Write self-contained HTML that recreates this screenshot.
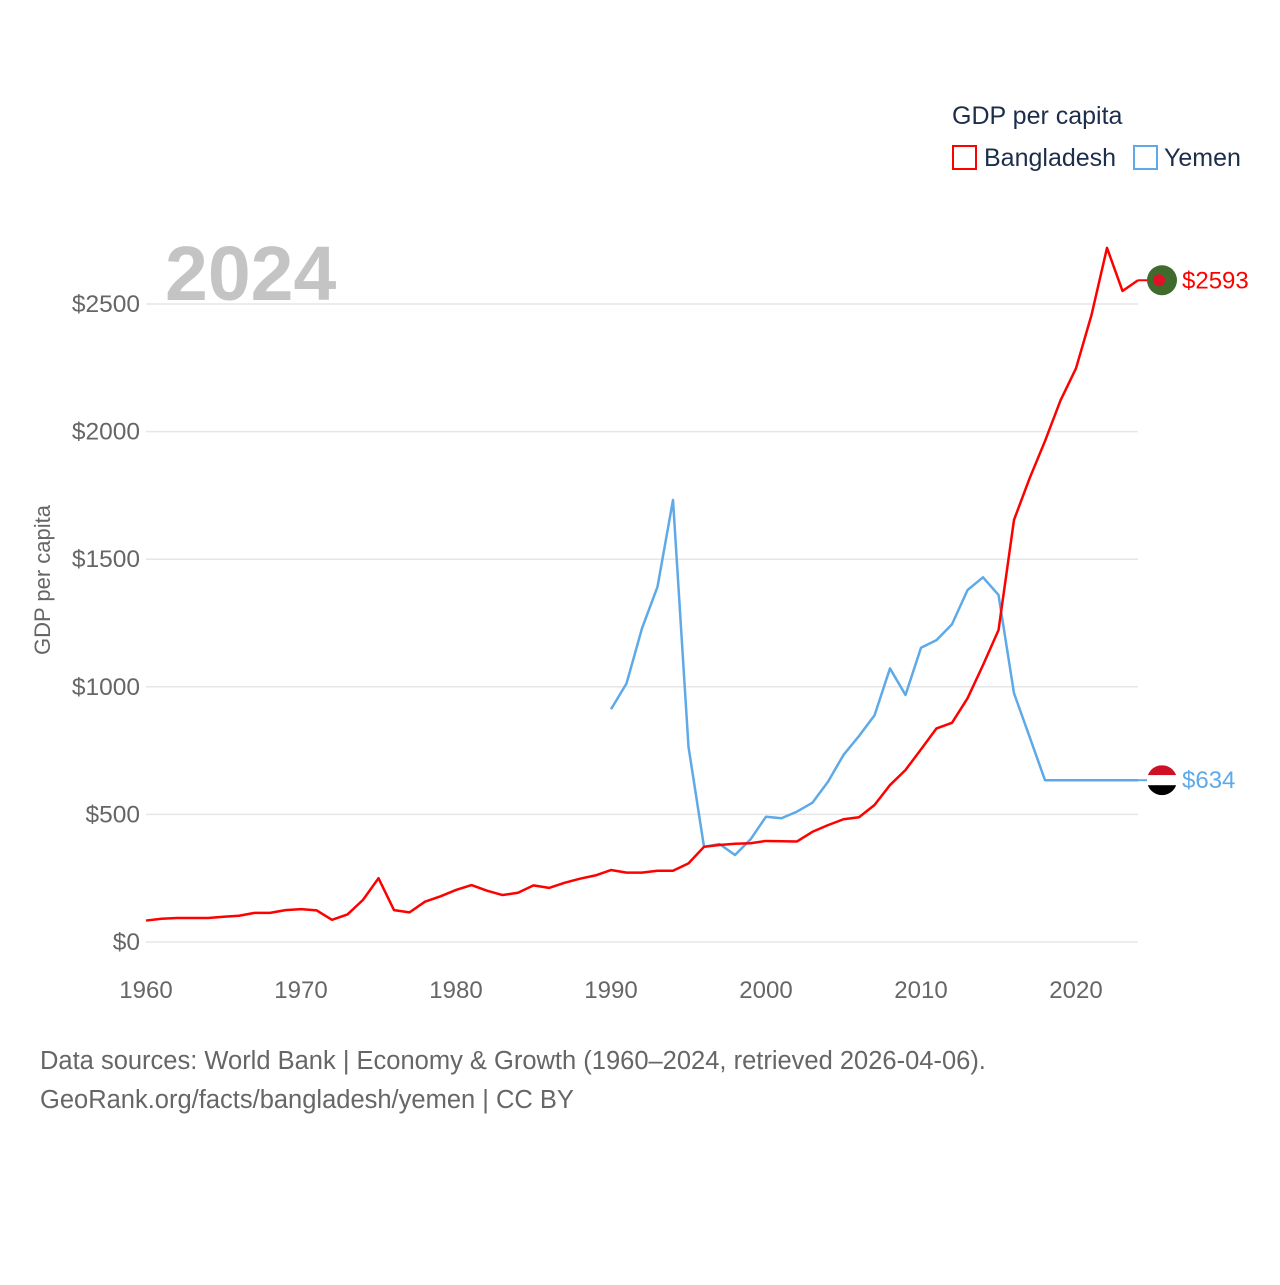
<!DOCTYPE html>
<html><head><meta charset="utf-8"><style>
body{margin:0;background:#fff;width:1280px;height:1280px;overflow:hidden;font-family:"Liberation Sans",sans-serif}
svg text{font-family:"Liberation Sans",sans-serif}
</style></head><body>
<svg id="chart" width="1280" height="1280" xmlns="http://www.w3.org/2000/svg">
<g id="grid"></g>
<g id="yticks"></g>
<g id="xticks"></g>
<text x="165" y="300" font-size="77" font-weight="bold" fill="#c4c4c4">2024</text>
<text transform="translate(50,580) rotate(-90)" text-anchor="middle" font-size="22" fill="#666">GDP per capita</text>
<g id="lines"></g>
<g>
<text x="952" y="124" font-size="25" fill="#1c2e4a">GDP per capita</text>
<rect x="953" y="146" width="23" height="23" fill="none" stroke="#ff0000" stroke-width="2"/>
<text x="984" y="166" font-size="25" fill="#1c2e4a">Bangladesh</text>
<rect x="1134" y="146" width="23" height="23" fill="none" stroke="#5ea9e8" stroke-width="2"/>
<text x="1164" y="166" font-size="25" fill="#1c2e4a">Yemen</text>
</g>
<g id="ends"></g>
<text x="40" y="1069" font-size="25.5" fill="#666">Data sources: World Bank | Economy &amp; Growth (1960–2024, retrieved 2026-04-06).</text>
<text x="40" y="1108" font-size="25.5" fill="#666">GeoRank.org/facts/bangladesh/yemen | CC BY</text>
</svg>
<script>
const years = Array.from({length:65},(_,i)=>1960+i);
const bangladesh = [84,91,94,94,94,99,103,114,114,125,129,124,87,108,165,250,125,116,158,179,204,223,201,184,193,222,212,232,248,261,282,272,272,279,279,308,373,380,385,387,396,395,394,432,458,481,489,537,615,674,755,837,859,955,1085,1222,1654,1816,1963,2122,2248,2457,2720,2551,2593];
const yemenYears = Array.from({length:35},(_,i)=>1990+i);
const yemen = [912,1013,1229,1392,1732,765,373,384,341,402,491,485,511,546,628,733,807,888,1072,968,1153,1183,1245,1379,1429,1360,975,805,634,634,634,634,634,634,634];
const yTicks = [0,500,1000,1500,2000,2500];
const xTicks = [1960,1970,1980,1990,2000,2010,2020];
const NS="http://www.w3.org/2000/svg";
const X = y => 146 + (y-1960)*15.5;
const Y = v => 942 - v*0.2552;
function mk(tag, attrs, parent){const e=document.createElementNS(NS,tag);for(const k in attrs)e.setAttribute(k,attrs[k]);parent.appendChild(e);return e;}
const grid=document.getElementById('grid'), yt=document.getElementById('yticks'), xt=document.getElementById('xticks');
yTicks.forEach(v=>{
  const l=mk('line',{x1:146,x2:1138,y1:Y(v),y2:Y(v),stroke:'#e6e6e6','stroke-width':1.5},grid);
  
  
  const t=mk('text',{x:140,y:Y(v)+8,'text-anchor':'end','font-size':24.5,fill:'#666'},yt);
  
  
  t.textContent='$'+v;
});
xTicks.forEach(y=>{
  const t=mk('text',{x:X(y),y:998,'text-anchor':'middle','font-size':24,fill:'#666'},xt);
  
  
  t.textContent=y;
});
const lines=document.getElementById('lines');
const yp=mk('polyline',{points:yemenYears.map((y,i)=>X(y)+','+Y(yemen[i])).join(' '),fill:'none',stroke:'#5ea9e8','stroke-width':2.5,'stroke-linejoin':'round'},lines);


const bp=mk('polyline',{points:years.map((y,i)=>X(y)+','+Y(bangladesh[i])).join(' '),fill:'none',stroke:'#ff0000','stroke-width':2.5,'stroke-linejoin':'round'},lines);


const ends=document.getElementById('ends');
const bl=bangladesh[bangladesh.length-1], yl=yemen[yemen.length-1];
const bc=Y(bl), yc=Y(yl);
mk('line',{x1:X(2024),x2:1148,y1:bc,y2:bc,stroke:'#ff0000','stroke-width':2},ends);
mk('line',{x1:X(2024),x2:1148,y1:yc,y2:yc,stroke:'#5ea9e8','stroke-width':2},ends);
const bf=mk('g',{},ends);


mk('circle',{cx:1162,cy:bc,r:15,fill:'#3f6b2c'},bf);
mk('circle',{cx:1159,cy:bc,r:6,fill:'#e0102a'},bf);
const yf=mk('g',{},ends);


const clip=mk('clipPath',{id:'yc'},yf);
mk('circle',{cx:1162,cy:yc,r:15},clip);
const fg=mk('g',{'clip-path':'url(#yc)'},yf);
mk('rect',{x:1147,y:yc-15,width:30,height:10,fill:'#ce1126'},fg);
mk('rect',{x:1147,y:yc-5,width:30,height:10,fill:'#fff'},fg);
mk('rect',{x:1147,y:yc+5,width:30,height:10,fill:'#000'},fg);
const bt=mk('text',{x:1182,y:bc+8,'font-size':24,fill:'#ff0000'},ends);


bt.textContent='$'+bl;
const ytx=mk('text',{x:1182,y:yc+8,'font-size':24,fill:'#5ea9e8'},ends);


ytx.textContent='$'+yl;
</script>
</body></html>
